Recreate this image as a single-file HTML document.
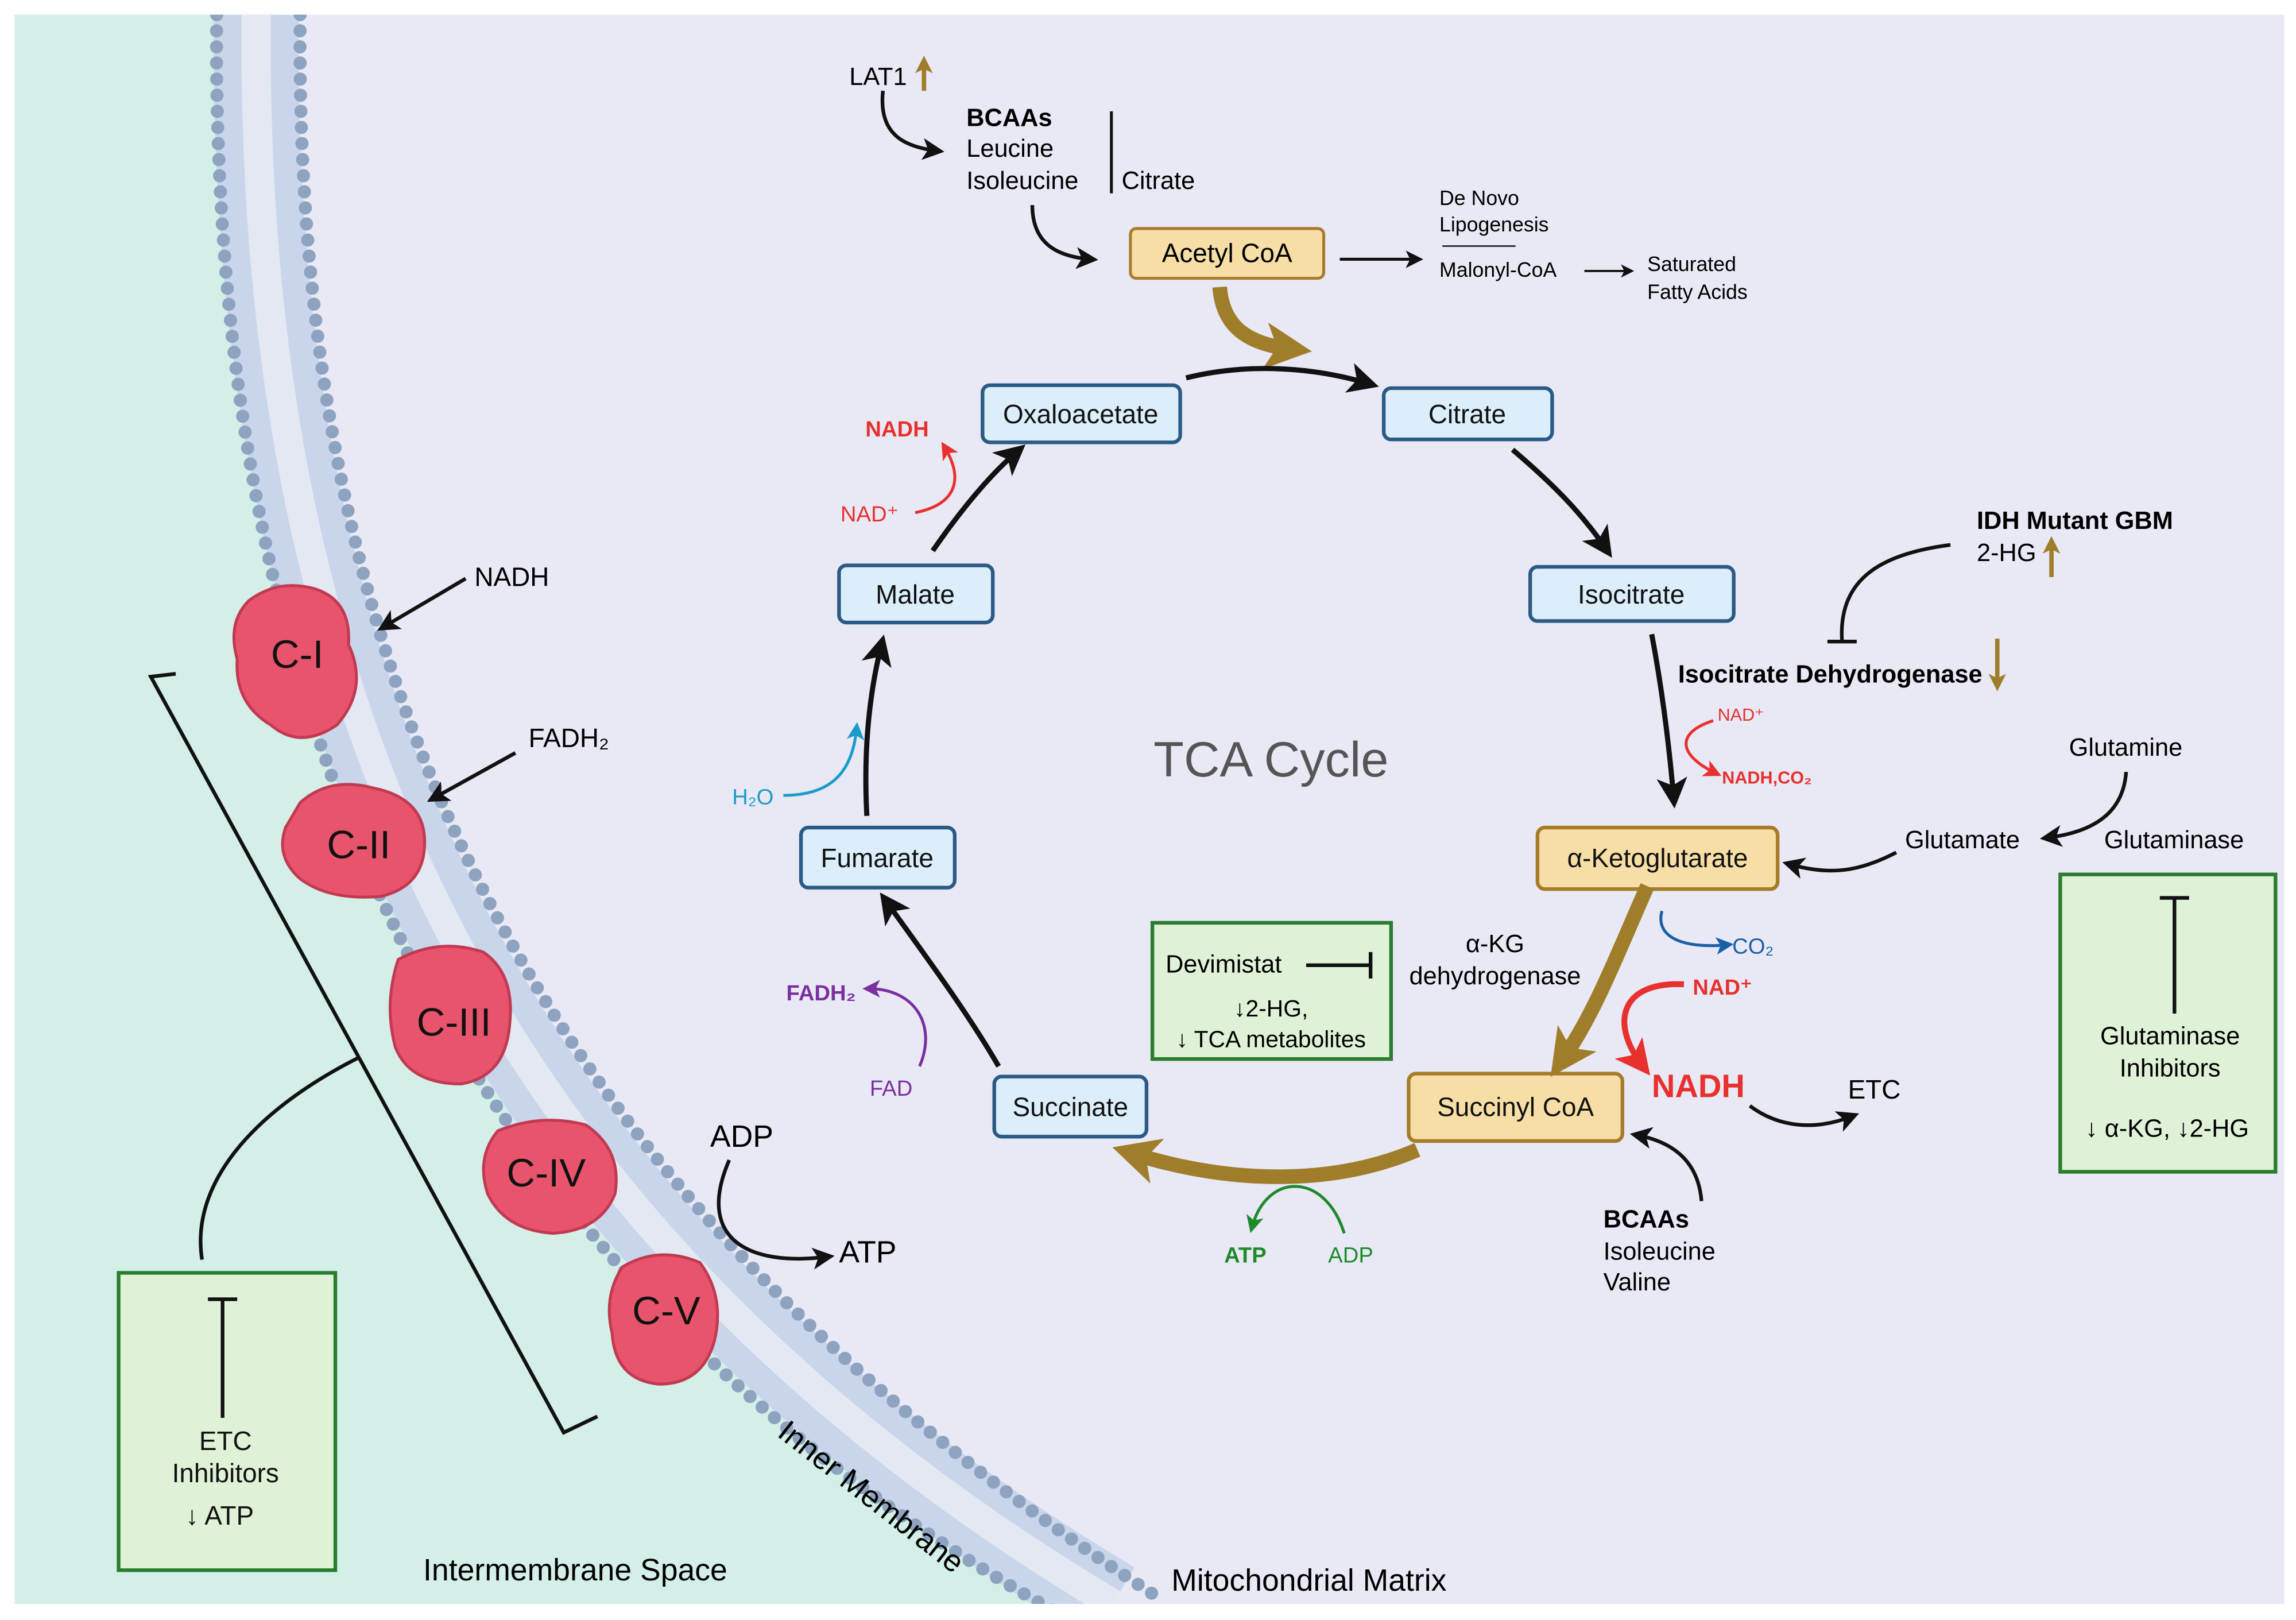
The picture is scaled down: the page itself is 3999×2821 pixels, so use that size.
<!DOCTYPE html>
<html><head><meta charset="utf-8"><style>
html,body{margin:0;padding:0;background:#fff}
svg{display:block}
text{font-family:"Liberation Sans",sans-serif;}
</style></head><body>
<svg width="3999" height="2821" viewBox="0 0 1568 1106" preserveAspectRatio="none" xmlns="http://www.w3.org/2000/svg">
<defs>
<clipPath id="cl"><rect x="10" y="10" width="1550" height="1085"/></clipPath>
<marker id="ak2" markerWidth="6" markerHeight="6" refX="4" refY="3" orient="auto" markerUnits="strokeWidth"><path d="M0,0 L6,3 L0,6 L1.5,3 Z" fill="#111"/></marker>
<marker id="ar" markerWidth="6" markerHeight="6" refX="4" refY="3" orient="auto" markerUnits="strokeWidth"><path d="M0,0 L6,3 L0,6 L1.5,3 Z" fill="#e8302f"/></marker>
<marker id="ab" markerWidth="6" markerHeight="6" refX="4" refY="3" orient="auto" markerUnits="strokeWidth"><path d="M0,0 L6,3 L0,6 L1.5,3 Z" fill="#1b5fa8"/></marker>
<marker id="ac" markerWidth="6" markerHeight="6" refX="4" refY="3" orient="auto" markerUnits="strokeWidth"><path d="M0,0 L6,3 L0,6 L1.5,3 Z" fill="#1a9cc8"/></marker>
<marker id="ap" markerWidth="6" markerHeight="6" refX="4" refY="3" orient="auto" markerUnits="strokeWidth"><path d="M0,0 L6,3 L0,6 L1.5,3 Z" fill="#7b2fa0"/></marker>
<marker id="ag" markerWidth="6" markerHeight="6" refX="4" refY="3" orient="auto" markerUnits="strokeWidth"><path d="M0,0 L6,3 L0,6 L1.5,3 Z" fill="#1e8a2a"/></marker>
<marker id="au" markerWidth="3.2" markerHeight="3.2" refX="1.6" refY="1.6" orient="auto" markerUnits="strokeWidth"><path d="M0,0 L3.2,1.6 L0,3.2 L0.8,1.6 Z" fill="#a07d2a"/></marker>
<marker id="au2" markerWidth="4" markerHeight="4" refX="2" refY="2" orient="auto" markerUnits="strokeWidth"><path d="M0,0 L4,2 L0,4 L1,2 Z" fill="#a07d2a"/></marker>
</defs>
<rect x="0" y="0" width="1568" height="1106" fill="#fff"/>
<rect x="10" y="10" width="1550" height="1085" fill="#e8e9f5"/>
<g clip-path="url(#cl)">
<path d="M10,10 L175,10 C170,500 350,850 760,1095 L10,1095 Z" fill="#d3efe8"/>
<path d="M175,10 C170,500 350,850 760,1095" fill="none" stroke="#c8d5ea" stroke-width="58"/>
<path d="M175,10 C170,500 350,850 760,1095" fill="none" stroke="#e3e8f3" stroke-width="20"/>
<path d="M148,10 C143,510 320,875 720,1100" fill="none" stroke="#8ea3c0" stroke-width="9" stroke-linecap="round" stroke-dasharray="0 11"/>
<path d="M205,10 C200,490 380,825 790,1090" fill="none" stroke="#8ea3c0" stroke-width="9" stroke-linecap="round" stroke-dasharray="0 11"/>
</g>
<g fill="#e8546c" stroke="#c23a52" stroke-width="2">
<path d="M170,410 Q190,395 215,402 Q240,410 238,440 Q252,470 230,495 Q205,512 185,495 Q160,480 162,450 Q155,425 170,410Z"/>
<path d="M205,548 Q225,530 255,538 Q290,545 290,575 Q290,605 260,612 Q225,615 205,600 Q188,585 195,565 Z"/>
<path d="M272,655 Q300,640 330,650 Q352,665 348,700 Q345,735 315,740 Q280,740 270,715 Q262,685 272,655Z"/>
<path d="M340,772 Q370,760 400,768 Q425,785 420,815 Q410,840 378,842 Q345,840 333,815 Q325,790 340,772Z"/>
<path d="M425,865 Q450,850 478,862 Q495,885 488,915 Q480,945 450,945 Q420,942 418,910 Q412,885 425,865Z"/>
</g>
<g font-size="27" fill="#111" text-anchor="middle">
<text x="203" y="456">C-I</text><text x="245" y="586">C-II</text><text x="310" y="707">C-III</text><text x="373" y="810">C-IV</text><text x="455" y="904">C-V</text>
</g>
<g stroke="#111" stroke-width="2.5" fill="none">
<line x1="318" y1="395" x2="262" y2="428" marker-end="url(#ak2)"/>
<line x1="352" y1="514" x2="296" y2="545" marker-end="url(#ak2)"/>
<path d="M498,792 C475,845 510,865 565,858" marker-end="url(#ak2)"/>
<path d="M120,460 L103,462 L385,978 L408,967"/>
<path d="M245,722 C170,760 130,810 138,860"/>
</g>
<text x="324" y="400" font-size="18">NADH</text>
<text x="361" y="510" font-size="18">FADH₂</text>
<text x="485" y="783" font-size="21">ADP</text>
<text x="573" y="862" font-size="21">ATP</text>
<rect x="81" y="869" width="148" height="203" fill="#dff2d8" stroke="#2a7d2e" stroke-width="2.5"/>
<line x1="152" y1="887" x2="152" y2="968" stroke="#111" stroke-width="2.5"/><line x1="142" y1="887" x2="162" y2="887" stroke="#111" stroke-width="2.5"/>
<g font-size="18" text-anchor="middle" fill="#111"><text x="154" y="990">ETC</text><text x="154" y="1012">Inhibitors</text><text x="150" y="1041">↓ ATP</text></g>
<text x="289" y="1079" font-size="21">Intermembrane Space</text>
<text x="530" y="980" font-size="21" transform="rotate(38 530 980)">Inner Membrane</text>
<text x="800" y="1086" font-size="21">Mitochondrial Matrix</text>
<text x="580" y="58" font-size="17">LAT1</text>
<line x1="631" y1="62" x2="631" y2="44" stroke="#a07d2a" stroke-width="3" marker-end="url(#au2)"/>
<path d="M603,62 C600,90 615,100 640,103" stroke="#111" stroke-width="2.5" fill="none" marker-end="url(#ak2)"/>
<text x="660" y="86" font-size="17" font-weight="bold">BCAAs</text>
<text x="660" y="107" font-size="17">Leucine</text>
<text x="660" y="129" font-size="17">Isoleucine</text>
<line x1="759" y1="76" x2="759" y2="132" stroke="#111" stroke-width="2"/>
<text x="766" y="129" font-size="17">Citrate</text>
<path d="M705,140 C705,165 720,175 745,177" stroke="#111" stroke-width="2.5" fill="none" marker-end="url(#ak2)"/>
<rect x="772" y="156" width="132" height="34" rx="4" fill="#f7dea6" stroke="#a87b2a" stroke-width="2"/>
<text x="838" y="179" font-size="18" text-anchor="middle">Acetyl CoA</text>
<line x1="915" y1="177" x2="968" y2="177" stroke="#111" stroke-width="2" marker-end="url(#ak2)"/>
<text x="983" y="140" font-size="14">De Novo</text><text x="983" y="158" font-size="14">Lipogenesis</text>
<line x1="985" y1="168" x2="1035" y2="168" stroke="#111" stroke-width="1"/>
<text x="983" y="189" font-size="14">Malonyl-CoA</text>
<line x1="1082" y1="185" x2="1113" y2="185" stroke="#111" stroke-width="1.5" marker-end="url(#ak2)"/>
<text x="1125" y="185" font-size="14">Saturated</text><text x="1125" y="204" font-size="14">Fatty Acids</text>
<path d="M833,196 C835,225 855,235 880,238" stroke="#a07d2a" stroke-width="10" fill="none" marker-end="url(#au)"/>
<g fill="#dbeefa" stroke="#2a5a85" stroke-width="2.5">
<rect x="671" y="263" width="135" height="39" rx="5"/>
<rect x="945" y="265" width="115" height="35" rx="5"/>
<rect x="1045" y="387" width="139" height="37" rx="5"/>
<rect x="679" y="735" width="104" height="41" rx="5"/>
<rect x="547" y="565" width="105" height="41" rx="5"/>
<rect x="573" y="386" width="105" height="39" rx="5"/>
</g>
<g fill="#f7dea6" stroke="#a87b2a" stroke-width="2.5">
<rect x="1050" y="565" width="164" height="42" rx="5"/>
<rect x="962" y="733" width="146" height="46" rx="5"/>
</g>
<g font-size="18" text-anchor="middle" fill="#111">
<text x="738" y="289">Oxaloacetate</text><text x="1002" y="289">Citrate</text><text x="1114" y="412">Isocitrate</text>
<text x="731" y="762">Succinate</text><text x="599" y="592">Fumarate</text><text x="625" y="412">Malate</text>
<text x="1132" y="592">α-Ketoglutarate</text><text x="1035" y="762">Succinyl CoA</text>
</g>
<text x="868" y="530" font-size="34" fill="#555" text-anchor="middle">TCA Cycle</text>
<g stroke="#111" stroke-width="3.5" fill="none">
<path d="M810,258 C850,248 895,250 935,262" marker-end="url(#ak2)"/>
<path d="M1033,307 C1060,330 1080,350 1097,375" marker-end="url(#ak2)"/>
<path d="M1128,433 C1135,470 1140,510 1143,545" marker-end="url(#ak2)"/>
<path d="M682,728 C660,690 630,650 605,615" marker-end="url(#ak2)"/>
<path d="M592,557 C590,520 592,480 602,440" marker-end="url(#ak2)"/>
<path d="M637,376 C655,350 675,325 695,308" marker-end="url(#ak2)"/>
</g>
<path d="M1125,605 C1105,650 1090,690 1068,722" stroke="#a07d2a" stroke-width="10" fill="none" marker-end="url(#au)"/>
<path d="M968,785 C910,810 840,808 775,788" stroke="#a07d2a" stroke-width="10" fill="none" marker-end="url(#au)"/>
<path d="M625,350 C650,345 660,330 645,305" stroke="#e8302f" stroke-width="2" fill="none" marker-end="url(#ar)"/>
<text x="591" y="298" font-size="15" font-weight="bold" fill="#e8302f">NADH</text>
<text x="574" y="356" font-size="15" fill="#e8302f">NAD⁺</text>
<path d="M535,543 C565,543 582,530 585,497" stroke="#1a9cc8" stroke-width="2" fill="none" marker-end="url(#ac)"/>
<text x="500" y="549" font-size="15" fill="#1a9cc8">H₂O</text>
<path d="M628,728 C640,700 625,675 593,675" stroke="#7b2fa0" stroke-width="2" fill="none" marker-end="url(#ap)"/>
<text x="537" y="683" font-size="15" font-weight="bold" fill="#7b2fa0">FADH₂</text>
<text x="594" y="748" font-size="15" fill="#7b2fa0">FAD</text>
<path d="M918,842 C905,800 865,800 855,838" stroke="#1e8a2a" stroke-width="2" fill="none" marker-end="url(#ag)"/>
<text x="836" y="862" font-size="15" font-weight="bold" fill="#1e8a2a">ATP</text>
<text x="907" y="862" font-size="15" fill="#1e8a2a">ADP</text>
<path d="M1170,492 C1145,500 1145,515 1172,528" stroke="#e8302f" stroke-width="2" fill="none" marker-end="url(#ar)"/>
<text x="1173" y="492" font-size="12" fill="#e8302f">NAD⁺</text>
<text x="1176" y="535" font-size="12" font-weight="bold" fill="#e8302f">NADH,CO₂</text>
<path d="M1135,622 C1130,640 1150,648 1180,645" stroke="#1b5fa8" stroke-width="2" fill="none" marker-end="url(#ab)"/>
<text x="1183" y="651" font-size="15" fill="#1b5fa8">CO₂</text>
<path d="M1150,672 C1105,670 1100,700 1122,728" stroke="#e8302f" stroke-width="4" fill="none" marker-end="url(#ar)"/>
<text x="1156" y="679" font-size="15" font-weight="bold" fill="#e8302f">NAD⁺</text>
<text x="1128" y="749" font-size="22" font-weight="bold" fill="#e8302f">NADH</text>
<path d="M1195,755 C1215,770 1240,772 1265,762" stroke="#111" stroke-width="2.5" fill="none" marker-end="url(#ak2)"/>
<text x="1262" y="750" font-size="18">ETC</text>
<path d="M1162,820 C1160,795 1145,780 1118,775" stroke="#111" stroke-width="2.5" fill="none" marker-end="url(#ak2)"/>
<text x="1095" y="838" font-size="17" font-weight="bold">BCAAs</text>
<text x="1095" y="860" font-size="17">Isoleucine</text><text x="1095" y="881" font-size="17">Valine</text>
<text x="1021" y="650" font-size="17" text-anchor="middle">α-KG</text>
<text x="1021" y="672" font-size="17" text-anchor="middle">dehydrogenase</text>
<rect x="787" y="630" width="163" height="93" fill="#dff2d8" stroke="#2a7d2e" stroke-width="2.5"/>
<text x="796" y="664" font-size="17">Devimistat</text>
<line x1="892" y1="659" x2="936" y2="659" stroke="#111" stroke-width="2.5"/><line x1="936" y1="650" x2="936" y2="668" stroke="#111" stroke-width="2.5"/>
<text x="868" y="694" font-size="16" text-anchor="middle">↓2-HG,</text>
<text x="868" y="715" font-size="16" text-anchor="middle">↓ TCA metabolites</text>
<text x="1350" y="361" font-size="17" font-weight="bold">IDH Mutant GBM</text>
<text x="1350" y="383" font-size="17">2-HG</text>
<line x1="1401" y1="394" x2="1401" y2="372" stroke="#a07d2a" stroke-width="3" marker-end="url(#au2)"/>
<path d="M1332,372 C1285,378 1255,395 1258,438" stroke="#111" stroke-width="2.5" fill="none"/>
<line x1="1248" y1="438" x2="1268" y2="438" stroke="#111" stroke-width="2.5"/>
<text x="1146" y="466" font-size="17" font-weight="bold">Isocitrate Dehydrogenase</text>
<line x1="1364" y1="436" x2="1364" y2="466" stroke="#a07d2a" stroke-width="3" marker-end="url(#au2)"/>
<text x="1413" y="516" font-size="17">Glutamine</text>
<path d="M1452,527 C1450,555 1430,568 1398,572" stroke="#111" stroke-width="2.5" fill="none" marker-end="url(#ak2)"/>
<text x="1301" y="579" font-size="17">Glutamate</text>
<text x="1437" y="579" font-size="17">Glutaminase</text>
<path d="M1295,582 C1270,595 1250,598 1222,590" stroke="#111" stroke-width="2.5" fill="none" marker-end="url(#ak2)"/>
<rect x="1407" y="597" width="147" height="203" fill="#dff2d8" stroke="#2a7d2e" stroke-width="2.5"/>
<line x1="1485" y1="613" x2="1485" y2="692" stroke="#111" stroke-width="2.5"/><line x1="1475" y1="613" x2="1495" y2="613" stroke="#111" stroke-width="2.5"/>
<g font-size="17" text-anchor="middle"><text x="1482" y="713">Glutaminase</text><text x="1482" y="735">Inhibitors</text><text x="1480" y="776">↓ α-KG, ↓2-HG</text></g>
</svg>
</body></html>
